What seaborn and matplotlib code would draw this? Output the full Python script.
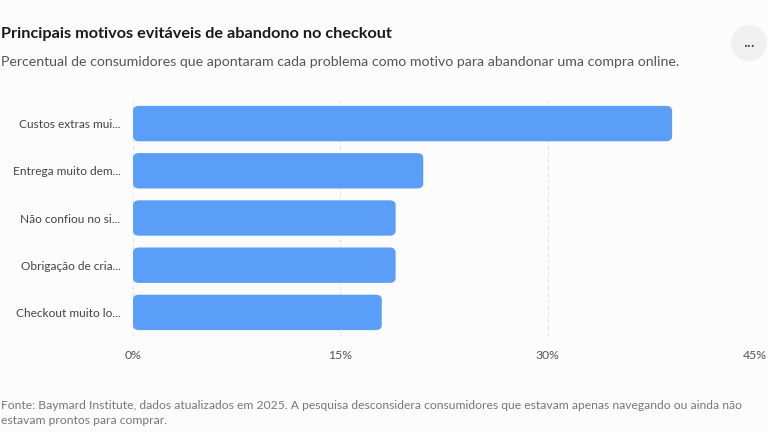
import matplotlib
matplotlib.use("Agg")
import matplotlib.pyplot as plt
import seaborn as sns
import pandas as pd
from matplotlib.patches import FancyBboxPatch, Ellipse

# dados
motivos = [
    "Custos extras mui...",
    "Entrega muito dem...",
    "Não confiou no si...",
    "Obrigação de cria...",
    "Checkout muito lo...",
]
percentuais = [39, 21, 19, 19, 18]
ticks_x = [0, 15, 30, 45]
tick_labels = ["0%", "15%", "30%", "45%"]

titulo = "Principais motivos evitáveis de abandono no checkout"
subtitulo = "Percentual de consumidores que apontaram cada problema como motivo para abandonar uma compra online."
fonte = ("Fonte: Baymard Institute, dados atualizados em 2025. A pesquisa desconsidera consumidores que estavam apenas navegando ou ainda não\n"
         "estavam prontos para comprar.")

sns.set_theme(style="white")
plt.rcParams['font.family'] = ['Lato', 'DejaVu Sans']

bg = "#fcfcfc"
bar_color = "#5b9ef8"

df = pd.DataFrame({"motivo": motivos, "pct": percentuais})

fig = plt.figure(figsize=(7.68, 4.32), dpi=100, facecolor=bg)
ax = fig.add_axes([133 / 768, 1 - 336 / 432, (755 - 133) / 768, (336 - 100) / 432])
ax.set_facecolor(bg)

sns.barplot(data=df, x="pct", y="motivo", color=bar_color, width=0.75, ax=ax,
            saturation=1, zorder=2)

# troca as barras por retangulos arredondados
for p in list(ax.patches):
    x0, y0 = p.get_x(), p.get_y()
    w, h = p.get_width(), p.get_height()
    p.remove()
    rb = FancyBboxPatch((x0, y0), w, h,
                        boxstyle="round,pad=0,rounding_size=0.45",
                        mutation_aspect=h / 3.2,
                        facecolor=bar_color, edgecolor="none", zorder=2)
    ax.add_patch(rb)

ax.set_xlim(0, 45)
ax.set_ylim(4.5, -0.5)
ax.set_xticks(ticks_x)
ax.set_xticklabels(tick_labels)
ax.xaxis.grid(True, linestyle=(0, (3, 3)), color="#e2e2e2", linewidth=0.8, zorder=0)
ax.set_axisbelow(True)
for s in ax.spines.values():
    s.set_visible(False)
ax.set_xlabel("")
ax.set_ylabel("")
ax.tick_params(axis="x", length=0, pad=10, labelsize=8.8, labelcolor="#555555")
ax.tick_params(axis="y", length=0, pad=9, labelsize=8.6, labelcolor="#444444")

fig.text(1 / 768, 1 - 34 / 432, titulo, fontsize=11.7, fontweight="bold",
         color="#1a1a1a", va="center", ha="left")
fig.text(1 / 768, 1 - 62 / 432, subtitulo, fontsize=10.2, color="#555555",
         va="center", ha="left")
fig.text(1 / 768, 1 - 413 / 432, fonte, fontsize=8.75, color="#777777",
         va="center", ha="left", linespacing=1.4)

# botao de menu
circ = Ellipse((749 / 768, 1 - 43 / 432), 36 / 768, 36 / 432, transform=fig.transFigure,
               facecolor="#f0f0f0", edgecolor="none")
fig.patches.append(circ)
fig.text(749 / 768, 1 - 42 / 432, "...", fontsize=12, color="#444444",
         ha="center", va="center")

fig.savefig("out.png", dpi=100, facecolor=bg)
